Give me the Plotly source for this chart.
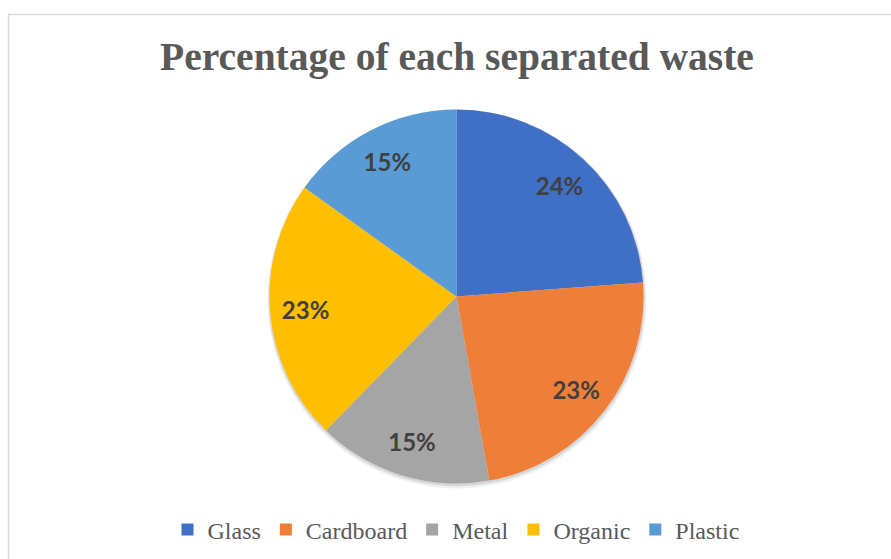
import plotly.graph_objects as go

categories = ["Glass", "Cardboard", "Metal", "Organic", "Plastic"]
values = [23.8, 23.4, 15.1, 22.6, 15.1]
colors = ["#4070C6", "#EF7F38", "#A5A5A5", "#FDBF00", "#5B9BD5"]

W, H = 891, 559
cx, cy, R = 456.5, 296.5, 187
dom = dict(x=[(cx - R) / W, (cx + R) / W], y=[(H - cy - R) / H, (H - cy + R) / H])

fig = go.Figure()
# coloured slices
fig.add_trace(go.Pie(
    labels=categories,
    values=values,
    sort=False,
    direction="clockwise",
    rotation=0,
    marker=dict(colors=colors, line=dict(width=0)),
    textinfo="none",
    domain=dom,
    hoverinfo="label+percent",
))
# transparent ring used only to place the percentage labels further out
fig.add_trace(go.Pie(
    labels=categories,
    values=values,
    sort=False,
    direction="clockwise",
    rotation=0,
    hole=0.62,
    marker=dict(colors=["rgba(0,0,0,0)"] * len(categories), line=dict(width=0)),
    texttemplate="%{percent:.0%}",
    textposition="inside",
    insidetextorientation="horizontal",
    textfont=dict(family="Lato", size=24, color="#404040", weight="bold"),
    domain=dom,
    showlegend=False,
    hoverinfo="skip",
))


def circle(dx, dy, extra, fill):
    return dict(
        type="circle", xref="paper", yref="paper",
        x0=(cx + dx - R - extra) / W, x1=(cx + dx + R + extra) / W,
        y0=(H - cy - dy - R - extra) / H, y1=(H - cy - dy + R + extra) / H,
        line=dict(width=0), fillcolor=fill, layer="below",
    )


fig.update_layout(
    width=W, height=H,
    margin=dict(l=0, r=0, t=0, b=0),
    paper_bgcolor="white",
    plot_bgcolor="white",
    title=dict(
        text="Percentage of each separated waste",
        x=457 / W, xanchor="center",
        y=1 - 56 / H, yanchor="middle",
        font=dict(family="Liberation Serif", size=39.5, color="#595959", weight="bold"),
    ),
    legend=dict(
        orientation="h",
        x=456 / W, xanchor="center",
        y=1 - 530 / H, yanchor="middle",
        font=dict(family="Liberation Serif", size=24, color="#595959"),
        itemwidth=30,
        traceorder="normal",
    ),
    shapes=[
        dict(
            type="rect", xref="paper", yref="paper",
            x0=8.5 / W, x1=1.02, y0=-0.02, y1=1 - 14.5 / H,
            line=dict(color="#D9D9D9", width=1.5),
            fillcolor="rgba(0,0,0,0)",
            layer="below",
        ),
        circle(0.5, 2.5, 2.5, "rgba(0,0,0,0.06)"),
        circle(0.3, 1.5, 1.2, "rgba(0,0,0,0.10)"),
    ],
)

fig.write_html(
    "out.html",
    config={"displayModeBar": False},
    post_script="document.body.style.margin='0';",
)
